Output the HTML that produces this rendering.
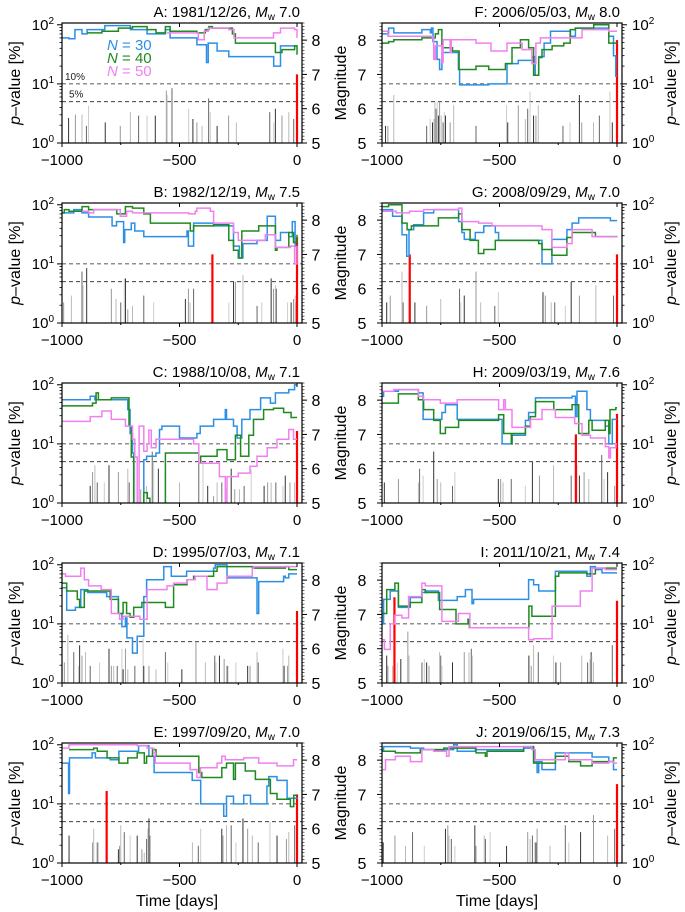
<!DOCTYPE html>
<html><head><meta charset="utf-8">
<style>
html,body{margin:0;padding:0;background:#fff;}
svg{display:block;font-family:"Liberation Sans",Arial,sans-serif;}
</style></head>
<body>
<svg id="fig" width="685" height="912" viewBox="0 0 685 912" xmlns="http://www.w3.org/2000/svg"></svg>
<script>
// ---- data: step series [day, p-value %] and magnitude events [day, Mw] ----
const A_blue=[[-1000,60],[-970,58],[-945,83],[-915,70],[-893,83],[-818,97],[-709,83],[-638,70],[-560,83],[-540,60],[-426,46],[-385,23],[-378,49],[-340,36],[-290,29],[-99,20],[-70,44],[0,44]];
const A_green=[[-893,73],[-830,78],[-760,88],[-700,93],[-638,83],[-600,73],[-560,93],[-540,78],[-426,73],[-390,83],[-375,93],[-360,88],[-275,70],[-262,49],[-92,34],[-64,38],[-10,44],[0,31]];
const A_pink=[[-553,73],[-420,56],[-395,78],[-378,88],[-290,83],[-268,60],[-100,73],[-70,88],[-10,83],[0,60]];
const A_mags=[[-972,5.73],[-943,5.83],[-915,5.83],[-896,5.5],[-887,6.09],[-816,5.6],[-752,5.5],[-709,5.9],[-674,5.8],[-638,5.8],[-603,5.8],[-556,6.53],[-553,6.4],[-532,6.6],[-461,6.0],[-443,5.7],[-426,5.6],[-404,5.5],[-376,6.3],[-369,5.9],[-340,5.5],[-291,5.8],[-258,5.6],[-116,5.9],[-99,5.6],[-92,6.0],[-64,5.8],[-35,5.9],[-14,5.7]];
const A_red=[[0,7.0]];

const B_blue=[[-1000,73],[-950,83],[-915,73],[-887,62],[-787,44],[-768,52],[-738,23],[-733,38],[-705,49],[-690,36],[-652,29],[-468,36],[-462,20],[-440,49],[-355,44],[-270,20],[-245,12.6],[-230,22],[-170,25],[-127,64],[-92,25],[-70,34],[-35,29],[-20,52],[-8,20],[0,18]];
const B_green=[[-1000,73],[-990,83],[-970,78],[-915,93],[-887,83],[-767,70],[-730,93],[-700,88],[-652,70],[-624,49],[-454,36],[-440,44],[-355,46],[-290,25],[-270,17],[-250,12.6],[-235,36],[-163,44],[-92,17],[-85,19],[-35,34],[-15,23],[0,31]];
const B_pink=[[-915,78],[-887,73],[-865,83],[-752,64],[-725,78],[-700,73],[-461,70],[-433,78],[-426,88],[-369,78],[-355,49],[-270,34],[-250,25],[-135,31],[-92,19],[-28,20],[-10,10],[0,20]];
const B_mags=[[-1000,6.0],[-993,5.6],[-960,5.8],[-915,6.5],[-910,6.1],[-895,6.6],[-790,6.0],[-770,5.7],[-750,5.6],[-735,6.3],[-730,6.3],[-720,5.4],[-700,5.5],[-652,5.8],[-610,5.6],[-475,5.7],[-462,6.0],[-455,5.6],[-440,6.0],[-290,5.6],[-270,6.2],[-262,6.2],[-230,6.4],[-170,5.5],[-150,5.6],[-110,6.3],[-100,6.0],[-92,6.1],[-88,6.0],[-40,5.6],[-25,5.6],[-15,5.7],[-8,5.8],[-3,5.6]];
const B_red=[[-360,7.0],[0,7.5]];

const C_blue=[[-1000,56],[-880,64],[-860,56],[-720,38],[-710,15],[-700,7],[-695,0.5],[-652,5.4],[-640,6.2],[-600,7],[-585,17.5],[-575,20],[-500,12.6],[-426,15],[-412,20],[-355,26],[-305,38],[-300,26],[-270,20],[-255,12.6],[-235,26],[-200,38],[-155,60],[-113,49],[-92,73],[-35,83],[-10,100],[0,100]];
const C_green=[[-1000,44],[-870,49],[-855,73],[-845,56],[-790,60],[-715,20],[-705,6],[-695,0.5],[-652,1.5],[-637,1.2],[-626,0.8],[-560,7],[-418,4.7],[-410,6.2],[-340,8],[-298,5.4],[-262,14],[-240,6.2],[-205,14],[-185,26],[-142,38],[-100,40],[-57,34],[-25,28],[0,28]];
const C_pink=[[-1000,24],[-880,29],[-830,36],[-790,26],[-730,20],[-700,12],[-690,6],[-680,0.9],[-672,20],[-652,7.5],[-638,10],[-630,17],[-620,8.6],[-600,12],[-440,10],[-418,4.7],[-330,2.8],[-305,1],[-298,2.8],[-250,3.2],[-200,4.2],[-170,6.2],[-127,8.6],[-85,12],[-35,17.5],[-15,12],[0,12]];
const C_mags=[[-880,5.5],[-870,5.9],[-860,6.1],[-850,5.6],[-820,5.6],[-800,6.1],[-760,5.9],[-720,6.0],[-714,5.6],[-690,6.8],[-680,5.8],[-665,5.4],[-640,5.5],[-616,6.5],[-610,6.2],[-590,6.0],[-560,5.9],[-500,5.6],[-418,6.4],[-400,6.2],[-380,5.5],[-355,5.2],[-340,5.6],[-320,5.6],[-300,5.4],[-280,6.0],[-265,5.4],[-245,5.4],[-225,5.5],[-195,6.0],[-140,5.5],[-125,5.6],[-110,5.6],[-90,5.6],[-60,5.5],[-50,5.8],[-30,5.6],[-10,5.6]];
const C_red=[[0,7.1]];

const D_blue=[[-1000,41],[-980,17],[-943,19],[-920,38],[-890,34],[-810,29],[-760,15],[-745,9],[-730,12.6],[-724,5.8],[-700,3.2],[-680,6.2],[-652,29],[-640,56],[-567,93],[-535,64],[-470,78],[-355,88],[-348,100],[-298,60],[-170,15],[-163,52],[-57,64],[-50,60],[-35,70],[0,70]];
const D_green=[[-1000,49],[-980,36],[-935,26],[-925,19],[-905,36],[-795,26],[-760,15],[-740,23],[-725,15],[-710,13],[-695,19],[-660,23],[-560,19],[-525,46],[-468,56],[-440,64],[-355,78],[-340,93],[-190,88],[-50,93],[-35,83],[0,83]];
const D_pink=[[-1000,70],[-985,64],[-920,88],[-905,56],[-887,44],[-833,38],[-790,15],[-755,12],[-740,13.5],[-668,12],[-638,38],[-553,44],[-525,49],[-468,56],[-433,64],[-383,38],[-340,49],[-298,64],[-190,88],[-185,93],[0,93]];
const D_mags=[[-1000,6.5],[-990,5.6],[-975,6.4],[-950,5.9],[-930,5.5],[-925,6.1],[-915,5.8],[-900,5.9],[-880,5.5],[-840,5.6],[-800,6.0],[-790,5.5],[-780,5.5],[-765,5.5],[-745,6.0],[-740,5.4],[-730,6.0],[-720,5.4],[-690,5.5],[-655,6.3],[-652,5.5],[-630,5.5],[-600,5.4],[-560,5.9],[-550,5.6],[-490,5.4],[-430,6.2],[-390,5.6],[-350,5.8],[-345,5.6],[-330,5.8],[-310,5.7],[-300,5.5],[-295,5.5],[-260,5.6],[-210,5.5],[-200,5.5],[-170,5.9],[-165,5.6],[-60,6.0],[-55,5.5],[-40,5.5],[-35,5.8]];
const D_red=[[0,7.1]];

const E_blue=[[-1000,49],[-972,15],[-968,60],[-872,73],[-858,60],[-795,56],[-758,78],[-674,97],[-630,64],[-608,34],[-446,25],[-410,10],[-355,10],[-312,6.2],[-300,13.5],[-270,10],[-227,14],[-198,10],[-128,20],[-120,29],[-85,25],[-42,12.5],[0,13]];
const E_green=[[-970,83],[-865,88],[-850,78],[-808,60],[-758,49],[-720,60],[-680,73],[-650,49],[-640,64],[-615,83],[-600,64],[-418,34],[-405,28],[-320,41],[-300,49],[-270,26],[-262,49],[-220,36],[-177,26],[-113,15],[-85,12],[-28,9],[-14,14],[0,14]];
const E_pink=[[-1000,88],[-970,100],[-680,97],[-638,88],[-610,73],[-603,49],[-455,38],[-426,28],[-411,41],[-340,49],[-320,64],[-305,56],[-227,60],[-163,49],[-85,44],[-15,56],[0,56]];
const E_mags=[[-970,5.8],[-870,5.6],[-865,6.0],[-850,5.6],[-845,5.6],[-760,5.4],[-755,5.5],[-750,6.1],[-735,5.9],[-710,5.8],[-680,5.8],[-660,5.4],[-650,5.3],[-640,5.7],[-635,6.0],[-630,6.3],[-625,5.8],[-445,5.6],[-420,5.5],[-410,6.0],[-320,6.0],[-315,5.8],[-300,6.1],[-280,6.1],[-260,5.6],[-230,6.3],[-210,6.0],[-190,5.8],[-165,5.6],[-115,6.2],[-85,5.8],[-45,5.7],[-35,5.9],[-10,6.1]];
const E_red=[[-810,7.1],[0,7.0]];

const F_blue=[[-1000,70],[-972,88],[-950,73],[-830,83],[-794,73],[-790,88],[-783,52],[-766,26],[-755,17.5],[-745,34],[-710,34],[-675,17.5],[-670,9.6],[-546,10],[-468,22],[-420,25],[-360,29],[-348,14],[-333,29],[-310,49],[-283,78],[-198,64],[-177,88],[-35,64],[-15,30],[-5,13.5],[0,13.5]];
const F_green=[[-1000,49],[-972,52],[-950,56],[-830,60],[-773,70],[-760,83],[-745,41],[-700,36],[-672,17.5],[-600,20],[-546,17.5],[-475,22],[-447,41],[-411,56],[-376,41],[-355,14],[-333,28],[-319,38],[-276,44],[-227,49],[-199,83],[-177,88],[-99,100],[-35,49],[0,49]];
const F_pink=[[-1000,78],[-975,64],[-786,60],[-780,26],[-773,44],[-745,23],[-740,56],[-710,34],[-705,56],[-600,49],[-536,36],[-468,49],[-404,38],[-362,22],[-345,49],[-326,60],[-149,83],[-35,78],[0,78]];
const F_mags=[[-985,5.5],[-975,5.5],[-950,6.4],[-810,5.5],[-795,5.7],[-785,5.6],[-778,5.7],[-775,6.2],[-770,6.0],[-765,6.2],[-760,5.8],[-755,6.2],[-748,5.8],[-740,5.6],[-735,5.9],[-730,5.8],[-710,5.6],[-695,6.1],[-600,5.5],[-470,6.1],[-465,5.6],[-420,6.1],[-390,5.7],[-380,6.0],[-370,6.5],[-355,5.8],[-345,5.8],[-335,6.1],[-230,5.5],[-200,5.6],[-160,6.4],[-150,5.6],[-100,5.6],[-75,5.8],[-30,6.5],[-20,5.6]];
const F_red=[[0,8.0]];

const G_blue=[[-1000,83],[-955,64],[-915,31],[-895,13.5],[-885,38],[-865,46],[-823,73],[-780,83],[-674,52],[-660,34],[-650,26],[-603,34],[-567,44],[-518,34],[-504,25],[-319,10],[-277,26],[-213,38],[-191,49],[-163,60],[-28,54],[0,54]];
const G_green=[[-1000,93],[-972,100],[-915,49],[-893,38],[-875,44],[-760,60],[-674,70],[-660,38],[-625,25],[-590,15],[-567,17.5],[-518,25],[-333,22],[-319,17.5],[-277,14],[-213,28],[-191,34],[-92,29],[0,29]];
const G_pink=[[-1000,78],[-940,73],[-883,78],[-823,83],[-674,88],[-660,52],[-589,49],[-532,44],[-319,38],[-277,19],[-213,22],[-191,38],[-106,29],[0,30]];
const G_mags=[[-980,5.6],[-965,5.8],[-915,6.5],[-910,5.6],[-880,5.6],[-860,5.6],[-810,5.5],[-750,5.7],[-670,6.0],[-665,5.6],[-650,5.8],[-600,6.5],[-580,5.6],[-520,5.5],[-505,5.9],[-315,5.9],[-305,5.8],[-280,5.6],[-265,5.6],[-220,5.5],[-195,6.2],[-160,5.8],[-90,6.1],[-15,5.8]];
const G_red=[[-882,7.0],[0,7.0]];

const H_blue=[[-1000,64],[-993,78],[-930,83],[-845,73],[-825,26],[-745,34],[-730,46],[-680,26],[-489,10],[-447,14],[-390,25],[-376,34],[-347,60],[-191,64],[-177,29],[-170,78],[-128,38],[-113,25],[-50,20],[-35,10],[-20,26],[0,26]];
const H_green=[[-1000,49],[-930,70],[-845,56],[-823,38],[-780,25],[-752,15],[-730,19],[-674,25],[-504,31],[-482,15],[-450,10],[-447,15],[-390,20],[-369,29],[-347,52],[-269,38],[-191,46],[-163,15],[-120,25],[-106,17],[-50,25],[-35,15],[-30,38],[-5,41],[0,41]];
const H_pink=[[-1000,78],[-950,83],[-845,64],[-823,56],[-752,49],[-680,56],[-504,38],[-482,56],[-475,38],[-447,19],[-368,26],[-319,38],[-262,28],[-180,22],[-149,14],[-113,12.6],[-50,9],[-35,5.8],[-28,8.6],[-5,10],[0,10]];
const H_mags=[[-990,5.6],[-930,5.7],[-845,5.6],[-840,6.0],[-825,5.8],[-780,6.5],[-765,5.7],[-750,5.6],[-700,5.5],[-690,5.9],[-505,5.7],[-495,5.7],[-485,5.6],[-450,5.7],[-390,5.5],[-360,6.2],[-330,5.8],[-270,6.1],[-195,5.8],[-170,6.1],[-160,5.8],[-140,5.9],[-120,5.7],[-65,6.4],[-55,5.7],[-40,5.9],[-10,5.5]];
const H_red=[[-175,7.0],[0,7.6]];

const I_blue=[[-1000,10],[-993,26],[-965,36],[-930,19],[-880,28],[-830,34],[-810,36],[-760,25],[-680,29],[-645,38],[-617,22],[-610,26],[-376,56],[-355,46],[-333,36],[-262,78],[-128,64],[-113,93],[-92,83],[-64,73],[0,73]];
const I_green=[[-1000,15],[-980,38],[-945,49],[-930,20],[-880,23],[-830,38],[-816,34],[-755,17.5],[-685,10],[-634,12],[-628,8.6],[-375,20],[-362,13.5],[-262,64],[-248,73],[-128,70],[-92,88],[0,88]];
const I_pink=[[-1000,5.4],[-990,3.7],[-965,10],[-945,14],[-915,12.6],[-887,29],[-830,49],[-816,44],[-745,11],[-675,15],[-626,8.6],[-376,5.4],[-355,5.6],[-276,20],[-156,36],[-106,88],[-50,83],[0,83]];
const I_mags=[[-980,5.8],[-975,5.5],[-955,5.5],[-945,5.6],[-935,5.6],[-920,5.7],[-890,6.5],[-885,5.8],[-830,5.6],[-820,5.7],[-810,5.6],[-800,5.5],[-755,5.9],[-750,5.8],[-745,5.5],[-700,5.6],[-650,5.9],[-630,5.9],[-620,6.0],[-615,5.8],[-375,5.8],[-365,5.5],[-355,6.1],[-335,5.9],[-270,5.8],[-260,5.6],[-240,5.6],[-150,5.8],[-125,5.6],[-115,5.7],[-110,5.9],[-108,5.8],[-100,5.6],[-20,6.1]];
const I_red=[[-947,7.5],[0,7.4]];

const J_blue=[[-1000,83],[-993,93],[-879,88],[-823,83],[-695,100],[-680,78],[-603,83],[-397,88],[-355,52],[-340,34],[-333,52],[-319,38],[-262,73],[-106,62],[-35,52],[-15,38],[0,38]];
const J_green=[[-1000,78],[-943,73],[-837,83],[-737,88],[-600,73],[-560,64],[-553,78],[-397,93],[-355,49],[-262,64],[-205,52],[-155,44],[-106,52],[-15,60],[0,60]];
const J_pink=[[-1000,38],[-985,56],[-943,64],[-879,52],[-830,83],[-780,78],[-725,64],[-715,93],[-404,93],[-362,83],[-348,56],[-220,73],[-206,56],[-106,49],[-35,52],[-15,49],[0,49]];
const J_mags=[[-995,5.6],[-945,5.8],[-900,5.5],[-870,5.9],[-820,5.5],[-730,6.0],[-720,6.1],[-715,5.8],[-705,5.7],[-690,5.5],[-605,6.1],[-600,5.5],[-565,5.8],[-560,5.7],[-540,5.9],[-470,5.5],[-380,5.9],[-370,5.7],[-360,5.8],[-350,5.6],[-345,5.6],[-340,6.0],[-285,5.5],[-220,6.1],[-205,5.6],[-155,5.9],[-100,6.4],[-40,5.8],[-10,6.0]];
const J_red=[[0,7.3]];

const titles=["A: 1981/12/26, ","B: 1982/12/19, ","C: 1988/10/08, ","D: 1995/07/03, ","E: 1997/09/20, ","F: 2006/05/03, ","G: 2008/09/29, ","H: 2009/03/19, ","I: 2011/10/21, ","J: 2019/06/15, "];
const mwLabels=["7.0","7.5","7.1","7.1","7.0","8.0","7.0","7.6","7.4","7.3"];
const xTicks=[-1000,-500,0];
const magTicks=[5,6,7,8];
const pTicks=[0,1,2];
const legendLabels=["30","40","50"];

const panelData=[
 [A_blue,A_green,A_pink,A_mags,A_red],[B_blue,B_green,B_pink,B_mags,B_red],
 [C_blue,C_green,C_pink,C_mags,C_red],[D_blue,D_green,D_pink,D_mags,D_red],
 [E_blue,E_green,E_pink,E_mags,E_red],[F_blue,F_green,F_pink,F_mags,F_red],
 [G_blue,G_green,G_pink,G_mags,G_red],[H_blue,H_green,H_pink,H_mags,H_red],
 [I_blue,I_green,I_pink,I_mags,I_red],[J_blue,J_green,J_pink,J_mags,J_red]];

const NS="http://www.w3.org/2000/svg";
const svg=document.getElementById('fig');
function mk(tag,attrs,parent){const e=document.createElementNS(NS,tag);for(const k in attrs)e.setAttribute(k,attrs[k]);(parent||svg).appendChild(e);return e;}
const seriesColors=['#2b8fe6','#1f8a1f','#f080f0'];
const seriesNames=['n30','n40','n50'];
const barShades=['#333','#999','#bbb','#666','#ccc'];
const W=240,H=120,PMAX=2.03,MMAX=8.5;

panelData.forEach((pd,idx)=>{
  const col=idx<5?0:1,row=idx%5;
  const x0=col?382:62, y0=23+row*180, x1=x0+W, y1=y0+H;
  const xs=d=>x0+(d+1000)*0.235;
  const yp=p=>y1-Math.log10(p)/PMAX*H;
  const ym=m=>y1-(m-5)/(MMAX-5)*H;
  const letter=String.fromCharCode(97+idx);
  const g=mk('g',{});
  
  
  const cp=mk('clipPath',{id:'cp'+idx},g);
  mk('rect',{x:x0,y:y0,width:W,height:H},cp);
  // dashed lines
  [10,5].forEach(v=>{
    const l=mk('line',{x1:x0,x2:x1,y1:yp(v),y2:yp(v),stroke:'#222','stroke-width':0.8,'stroke-dasharray':'4,3'},g);
    
    
  });
  // magnitude bars
  pd[3].forEach((e,i)=>{
    const b=mk('line',{x1:xs(e[0]),x2:xs(e[0]),y1:y1,y2:ym(e[1]),stroke:barShades[i%5],'stroke-width':1},g);
    
    
  });
  pd[4].forEach(e=>{
    const b=mk('line',{x1:xs(e[0]),x2:xs(e[0]),y1:y1,y2:ym(e[1]),stroke:'#f00','stroke-width':2.2},g);
    
    
  });
  // series
  [0,1,2].forEach(s=>{
    const pts=pd[s];
    let d='M'+xs(pts[0][0]).toFixed(1)+' '+yp(pts[0][1]).toFixed(1);
    for(let i=1;i<pts.length;i++){d+=' H'+xs(pts[i][0]).toFixed(1)+' V'+yp(pts[i][1]).toFixed(1);}
    const p=mk('path',{d:d,fill:'none',stroke:seriesColors[s],'stroke-width':1.5,'clip-path':'url(#cp'+idx+')'},g);
    
    
  });
  // frame
  const fr=mk('rect',{x:x0,y:y0,width:W,height:H,fill:'none',stroke:'#000','stroke-width':1.2},g);
  
  
  // x ticks
  xTicks.forEach(t=>{
    mk('line',{x1:xs(t),x2:xs(t),y1:y1,y2:y1+4,stroke:'#000'},g);
    mk('line',{x1:xs(t),x2:xs(t),y1:y0,y2:y0+4,stroke:'#000'},g);
    const tx=mk('text',{x:xs(t),y:y1+22,'font-size':15,'text-anchor':'middle'},g);
    tx.textContent=t<0?'\u2212'+(-t):String(t);
    
    
  });
  [-750,-250].forEach(t=>{mk('line',{x1:xs(t),x2:xs(t),y1:y1,y2:y1+2,stroke:'#000'},g);});
  // p-value axis side and mag axis side
  const pX=col?x1:x0, mX=col?x0:x1, pDir=col?1:-1, mDir=col?-1:1;
  pTicks.forEach(k=>{
    const y=yp(Math.pow(10,k));
    mk('line',{x1:pX,x2:pX+pDir*5,y1:y,y2:y,stroke:'#000'},g);
    const tx=mk('text',{x:col?pX+10:pX-8,y:y+5,'font-size':15,'text-anchor':col?'start':'end'},g);
    
    
    tx.textContent='10';
    const sp=mk('tspan',{dy:-6,'font-size':10},tx);sp.textContent=String(k);
  });
  for(let k=0;k<2;k++)for(let m=2;m<10;m++){const y=yp(m*Math.pow(10,k));mk('line',{x1:pX,x2:pX+pDir*2.5,y1:y,y2:y,stroke:'#000','stroke-width':0.8},g);}
  magTicks.forEach(m=>{
    mk('line',{x1:mX,x2:mX+mDir*5,y1:ym(m),y2:ym(m),stroke:'#000'},g);
    const tx=mk('text',{x:col?mX-20:mX+14,y:ym(m)+6,'font-size':16,'text-anchor':'middle'},g);
    tx.textContent=String(m);
    
    
  });
  for(let m=5;m<=8.5;m+=0.1){const y=ym(m);mk('line',{x1:mX,x2:mX+mDir*2.5,y1:y,y2:y,stroke:'#000','stroke-width':0.6},g);}
  // title
  const tt=mk('text',{x:x1-2,y:y0-6,'font-size':15,'text-anchor':'end'},g);
  
  
  tt.appendChild(document.createTextNode(titles[idx]));
  const mi=mk('tspan',{'font-style':'italic'},tt);mi.textContent='M';
  const ms=mk('tspan',{'font-size':10,dy:3},tt);ms.textContent='w';
  const mv=mk('tspan',{dy:-3},tt);mv.textContent=' '+mwLabels[idx];
  // axis titles
  const pl=mk('text',{'font-size':16,'text-anchor':'middle',transform:'translate('+(col?676:20)+','+(y0+H/2)+') rotate(-90)'},g);
  
  
  const pi=mk('tspan',{'font-style':'italic'},pl);pi.textContent='p';
  pl.appendChild(document.createTextNode('\u2013value [%]'));
  if(col===0){
    const ml=mk('text',{'font-size':16,'text-anchor':'middle',transform:'translate(346,'+(y0+H/2)+') rotate(-90)'},g);
    ml.textContent='Magnitude';
    
    
  }
  if(idx===0){
    legendLabels.forEach((n,i)=>{
      const t=mk('text',{x:107,y:50+i*13,'font-size':15,fill:seriesColors[i]},g);
      
      
      const it=mk('tspan',{'font-style':'italic'},t);it.textContent='N';
      t.appendChild(document.createTextNode(' = '+n));
    });
    const t10=mk('text',{x:65,y:yp(10)-4,'font-size':10,fill:'#222'},g);t10.textContent='10%';
    
    
    const t5=mk('text',{x:69,y:yp(5)-4,'font-size':10,fill:'#222'},g);t5.textContent='5%';
    
    
  }
  if(row===4){
    const xl=mk('text',{x:(x0+x1)/2-5,y:906,'font-size':16,'text-anchor':'middle'},g);
    xl.textContent='Time [days]';
    
    
  }
});
</script>
</body></html>
